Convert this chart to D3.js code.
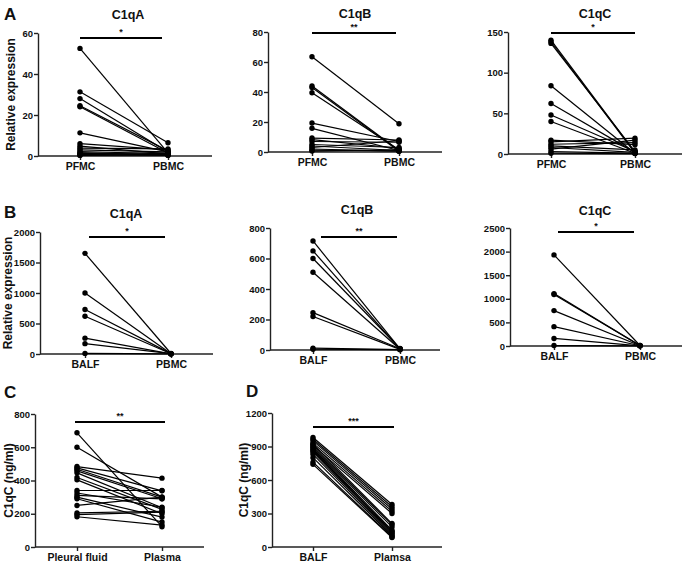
<!DOCTYPE html>
<html>
<head>
<meta charset="utf-8">
<script src="https://cdn.jsdelivr.net/npm/d3@7.9.0/dist/d3.min.js"></script>
<style>
  body { margin: 0; background: #fff; }
  svg { display: block; }
  text { font-family: "Liberation Sans", Arial, sans-serif; font-weight: bold; fill: #111; }
  .tick text { font-family: "Liberation Sans Narrow", "Liberation Sans", Arial, sans-serif; font-size: 9.5px; font-weight: bold; }
</style>
</head>
<body>
<svg id="chart" width="686" height="567"></svg>
<script>
// ---- data ----
const a1Pfmc = [52.5, 31.3, 28, 24.5, 24, 11.3, 6, 4.8, 3.8, 3, 2.2, 1.6, 1.2, 0.8, 0.5, 0.3];
const a1Pbmc = [1.5, 6.5, 2, 2.5, 1.5, 2, 3, 1, 3.5, 2, 1, 0.5, 1.5, 0.3, 0.8, 0.5];

const a2Pfmc = [63.5, 44, 43, 39.5, 19.3, 15.8, 9.3, 8.3, 7, 5, 4, 3, 2, 1.2, 0.6];
const a2Pbmc = [18.8, 1, 0.5, 1.5, 7, 1, 8, 2.5, 6.5, 3, 1, 7.5, 0.5, 0.8, 1.5];

const a3Pfmc = [140, 138, 136, 84, 62, 48, 40, 17, 15, 12, 10, 8, 6, 3, 1];
const a3Pbmc = [2, 1, 3, 1, 2, 3, 1, 11.5, 19.5, 14, 5, 2, 17, 1, 0.5];

const b1Balf = [1650, 1000, 730, 620, 260, 170, 10];
const b1Pbmc = [8, 5, 6, 4, 3, 5, 2];

const b2Balf = [715, 650, 600, 510, 245, 220, 12, 5];
const b2Pbmc = [8, 6, 10, 5, 8, 4, 3, 2];

const b3Balf = [1930, 1110, 1090, 750, 410, 160, 10];
const b3Pbmc = [10, 8, 12, 6, 5, 4, 3];

const cPleural = [687, 600, 484, 476, 468, 458, 446, 418, 404, 340, 325, 310, 300, 290, 250, 205, 195, 182];
const cPlasma  = [122, 300, 414, 338, 300, 290, 236, 226, 200, 340, 240, 290, 180, 150, 300, 215, 210, 132];

const dBalf   = [980, 965, 950, 930, 920, 910, 900, 890, 880, 870, 860, 850, 830, 800, 760, 740];
const dPlasma = [380, 360, 340, 320, 210, 300, 200, 180, 150, 130, 140, 120, 110, 100, 90, 85];

const catsA = ['PFMC', 'PBMC'];
const catsB = ['BALF', 'PBMC'];
const catsC = ['Pleural fluid', 'Plasma'];
const catsD = ['BALF', 'Plamsa'];

const ticksA1 = [0, 20, 40, 60];
const ticksA2 = [0, 20, 40, 60, 80];
const ticksA3 = [0, 50, 100, 150];
const ticksB1 = [0, 500, 1000, 1500, 2000];
const ticksB2 = [0, 200, 400, 600, 800];
const ticksB3 = [0, 500, 1000, 1500, 2000, 2500];
const ticksC  = [0, 200, 400, 600, 800];
const ticksD  = [0, 300, 600, 900, 1200];

// ---- panels: data + layout ----
const panels = [
  { before: a1Pfmc, after: a1Pbmc, cats: catsA, ticks: ticksA1, title: 'C1qA', sig: '*', ylabel: 'Relative expression',
    ax: 38, top: 33, bottom: 156, c0: 80, c1: 168, end: 212, tx: 128, ty: 19, sy: 38, s0: 80, s1: 162, lx: 15 },
  { before: a2Pfmc, after: a2Pbmc, cats: catsA, ticks: ticksA2, title: 'C1qB', sig: '**',
    ax: 268, top: 32, bottom: 152, c0: 312, c1: 399, end: 442, tx: 355, ty: 18, sy: 33, s0: 312, s1: 396 },
  { before: a3Pfmc, after: a3Pbmc, cats: catsA, ticks: ticksA3, title: 'C1qC', sig: '*',
    ax: 508, top: 32, bottom: 154, c0: 551, c1: 635, end: 682, tx: 595, ty: 18, sy: 33, s0: 551, s1: 635 },
  { before: b1Balf, after: b1Pbmc, cats: catsB, ticks: ticksB1, title: 'C1qA', sig: '*', ylabel: 'Relative expression',
    ax: 40, top: 232, bottom: 354, c0: 85, c1: 171, end: 213, tx: 126, ty: 218, sy: 237, s0: 89, s1: 165, lx: 12 },
  { before: b2Balf, after: b2Pbmc, cats: catsB, ticks: ticksB2, title: 'C1qB', sig: '**',
    ax: 270, top: 228, bottom: 350, c0: 313, c1: 400, end: 440, tx: 357, ty: 214, sy: 237, s0: 321, s1: 397 },
  { before: b3Balf, after: b3Pbmc, cats: catsB, ticks: ticksB3, title: 'C1qC', sig: '*',
    ax: 510, top: 228, bottom: 346, c0: 554, c1: 640, end: 682, tx: 595, ty: 215, sy: 232, s0: 558, s1: 634 },
  { before: cPleural, after: cPlasma, cats: catsC, ticks: ticksC, sig: '**', ylabel: 'C1qC (ng/ml)',
    ax: 35, top: 414, bottom: 547, c0: 77, c1: 162, end: 204, sy: 422, s0: 75, s1: 165, lx: 13 },
  { before: dBalf, after: dPlasma, cats: catsD, ticks: ticksD, sig: '***', ylabel: 'C1qC (ng/ml)',
    ax: 272, top: 413, bottom: 547, c0: 313, c1: 392, end: 442, sy: 427, s0: 313, s1: 394, lx: 248 }
];

const letters = [
  { t: 'A', x: 4, y: 20 },
  { t: 'B', x: 4, y: 218 },
  { t: 'C', x: 4, y: 398 },
  { t: 'D', x: 246, y: 397 }
];

const svg = d3.select('#chart');

letters.forEach((d) => {
  svg.append('text').attr('x', d.x).attr('y', d.y)
    .attr('font-size', 17).text(d.t);
});

panels.forEach((p) => {
  const g = svg.append('g');
  const y = d3.scaleLinear()
    .domain([0, d3.max(p.ticks)])
    .range([p.bottom, p.top]);
  const x = d3.scalePoint().domain(p.cats).range([p.c0, p.c1]);

  // y axis
  const yAxis = g.append('g')
    .attr('transform', `translate(${p.ax},0)`)
    .call(d3.axisLeft(y).tickValues(p.ticks).tickFormat(d3.format('d'))
      .tickSize(4).tickSizeOuter(0).tickPadding(1));

  // x axis
  const xAxis = g.append('g')
    .attr('transform', `translate(0,${p.bottom})`)
    .call(d3.axisBottom(x).tickSize(4).tickSizeOuter(0).tickPadding(3));
  xAxis.select('.domain').attr('d', `M${p.ax},0H${p.end}`);
  xAxis.selectAll('.tick text').style('font-size', '10.5px');

  [yAxis, xAxis].forEach((a) => {
    a.selectAll('.domain, .tick line').attr('stroke', '#222').attr('stroke-width', 1.4);
  });

  // paired lines
  const pairs = p.before.map((v, i) => [v, p.after[i]]);
  g.selectAll('line.pair').data(pairs).join('line')
    .attr('class', 'pair')
    .attr('x1', x(p.cats[0])).attr('x2', x(p.cats[1]))
    .attr('y1', (d) => y(d[0])).attr('y2', (d) => y(d[1]))
    .attr('stroke', '#000').attr('stroke-width', 1.2);

  // points
  const pts = pairs.flatMap((d) => [[p.cats[0], d[0]], [p.cats[1], d[1]]]);
  g.selectAll('circle').data(pts).join('circle')
    .attr('cx', (d) => x(d[0])).attr('cy', (d) => y(d[1]))
    .attr('r', 2.7).attr('fill', '#000');

  // significance bar
  g.append('line')
    .attr('x1', p.s0).attr('x2', p.s1).attr('y1', p.sy).attr('y2', p.sy)
    .attr('stroke', '#000').attr('stroke-width', 2);
  g.append('text')
    .attr('x', (p.s0 + p.s1) / 2).attr('y', p.sy - 3)
    .attr('text-anchor', 'middle').attr('font-size', 9).text(p.sig);

  if (p.title) {
    g.append('text').attr('x', p.tx).attr('y', p.ty)
      .attr('text-anchor', 'middle').attr('font-size', 12.5).text(p.title);
  }
  if (p.ylabel) {
    g.append('text')
      .attr('transform', `translate(${p.lx},${(p.top + p.bottom) / 2}) rotate(-90)`)
      .attr('text-anchor', 'middle').attr('font-size', 12).text(p.ylabel);
  }
});
</script>
</body>
</html>
